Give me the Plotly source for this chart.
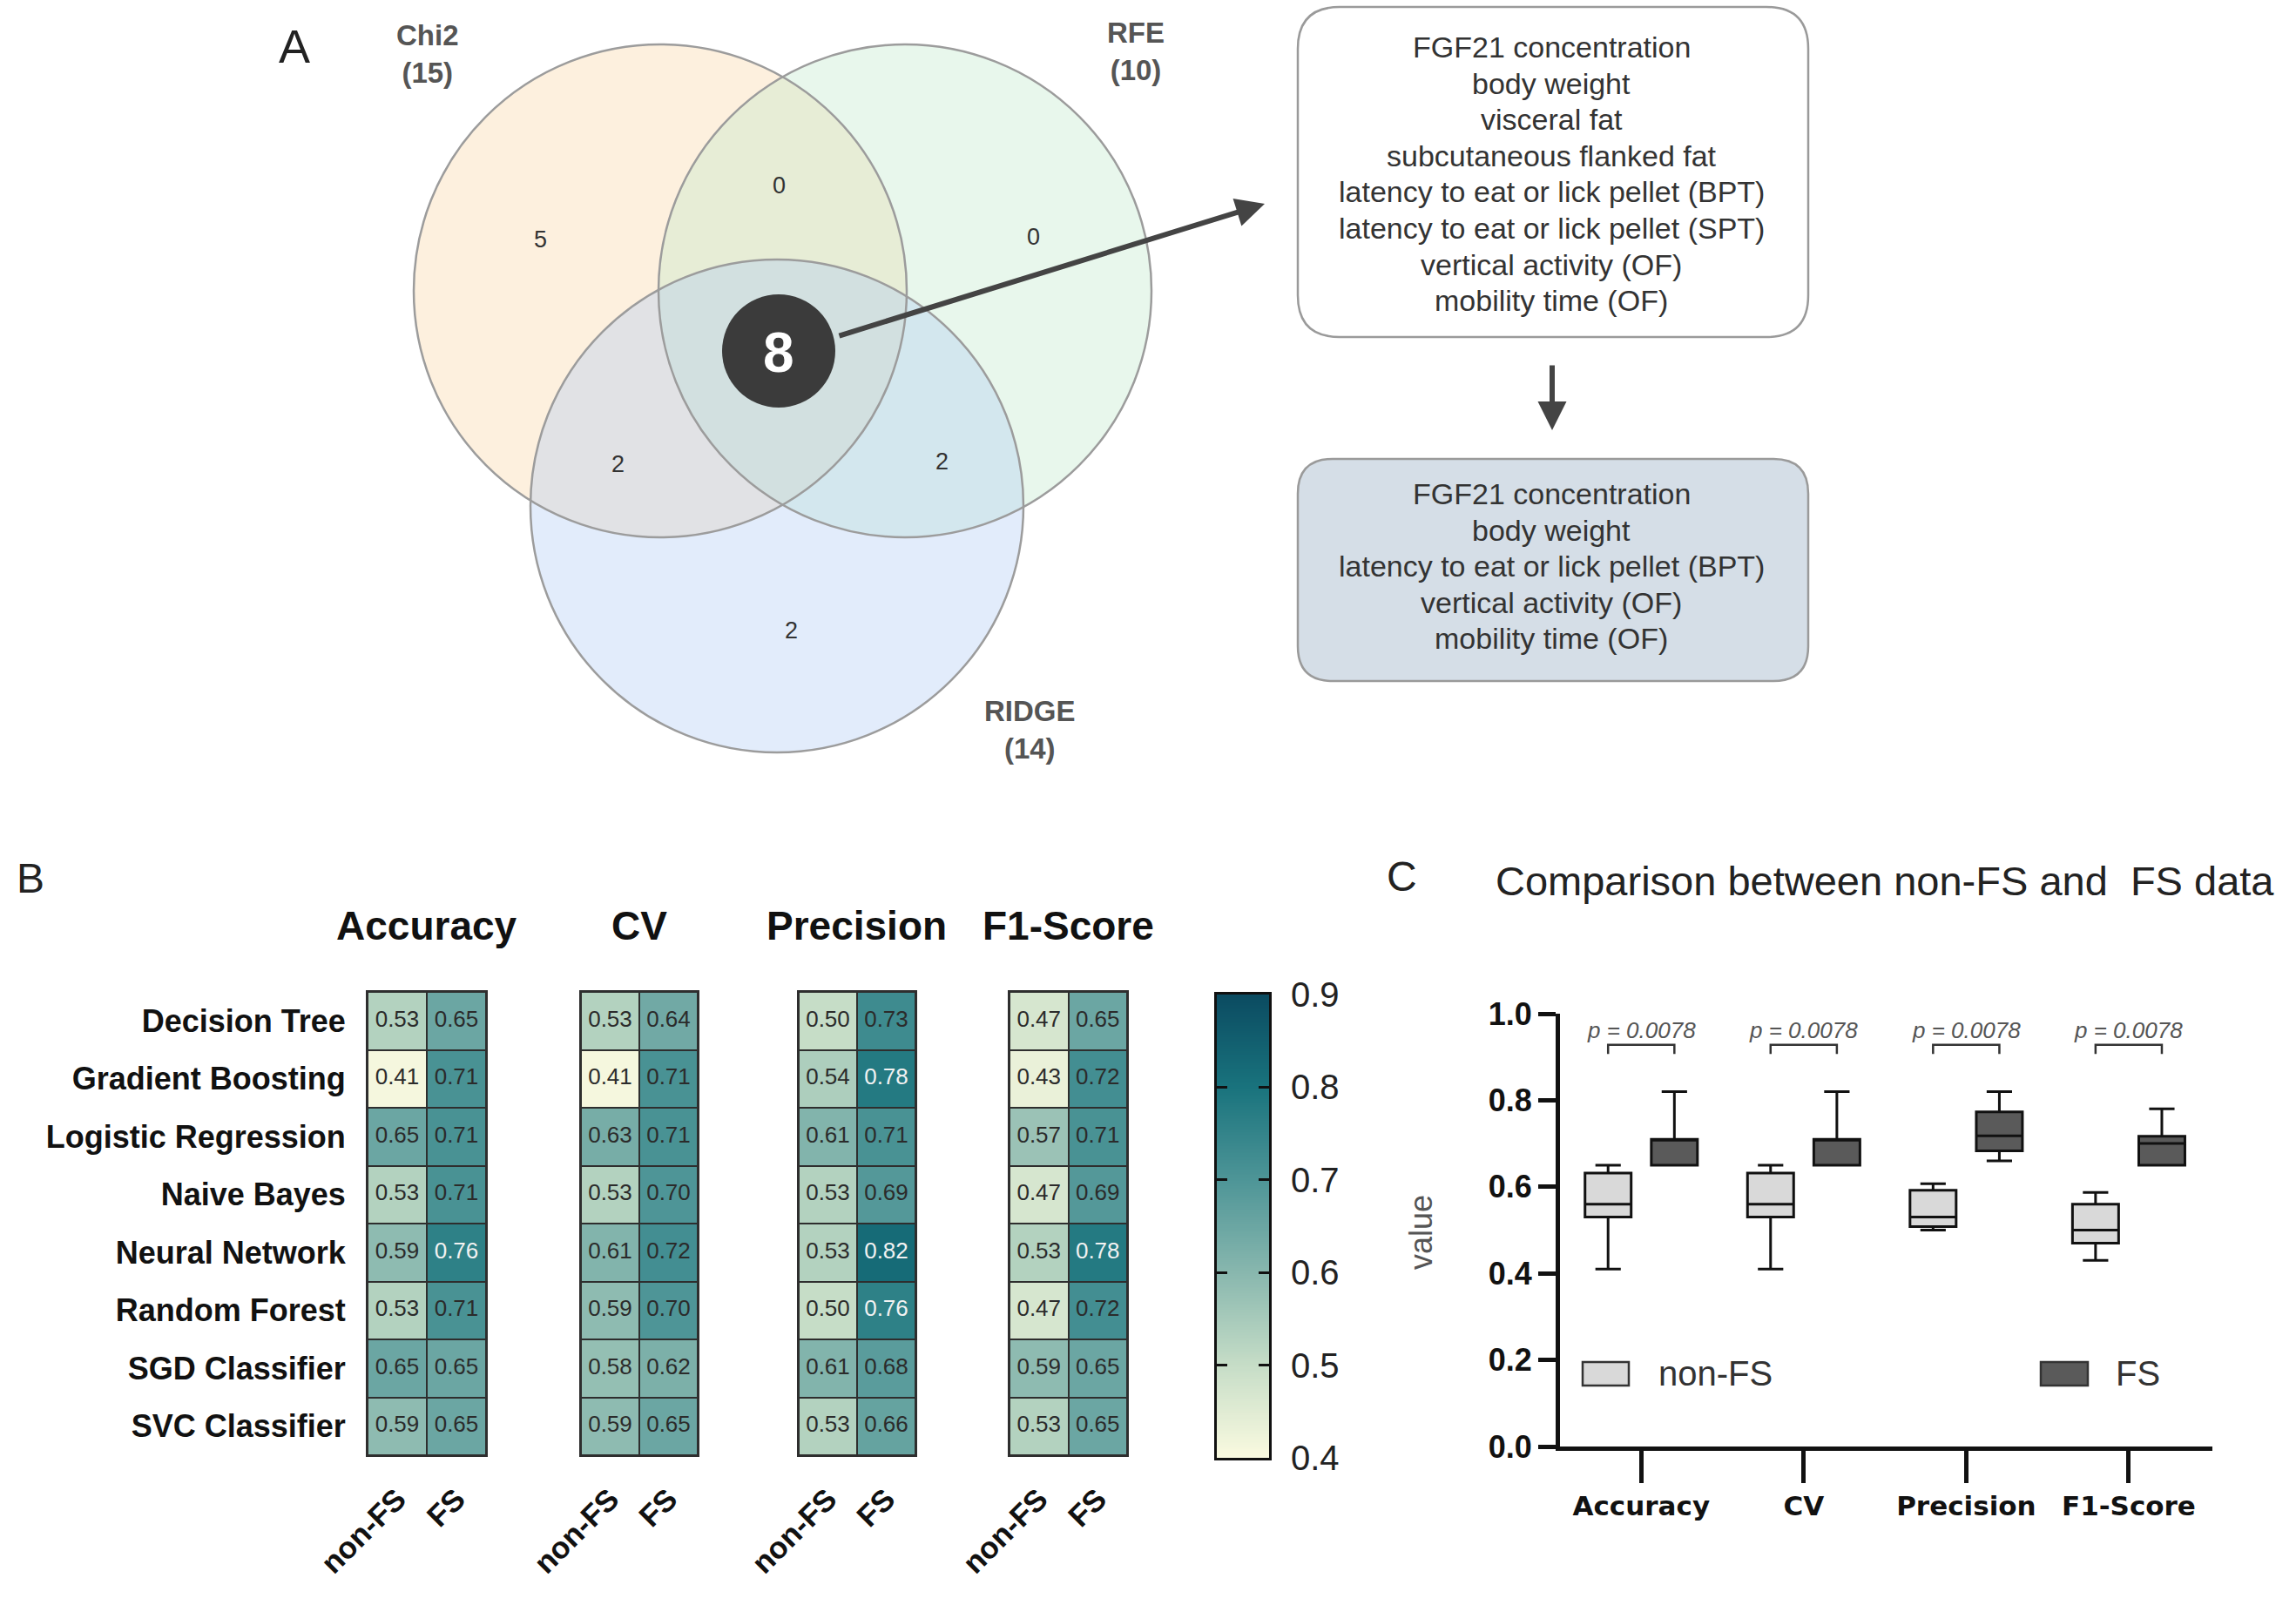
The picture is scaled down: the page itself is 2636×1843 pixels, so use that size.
import numpy as np
import plotly.graph_objects as go

W, H = 2636, 1843
FONT = "Liberation Sans, Arial, sans-serif"

# ---------------- DATA ----------------
models = ["Decision Tree", "Gradient Boosting", "Logistic Regression", "Naive Bayes",
          "Neural Network", "Random Forest", "SGD Classifier", "SVC Classifier"]
conditions = ["non-FS", "FS"]
metrics = ["Accuracy", "CV", "Precision", "F1-Score"]

accuracy_nonfs = [0.53, 0.41, 0.65, 0.53, 0.59, 0.53, 0.65, 0.59]
accuracy_fs = [0.65, 0.71, 0.71, 0.71, 0.76, 0.71, 0.65, 0.65]
cv_nonfs = [0.53, 0.41, 0.63, 0.53, 0.61, 0.59, 0.58, 0.59]
cv_fs = [0.64, 0.71, 0.71, 0.70, 0.72, 0.70, 0.62, 0.65]
precision_nonfs = [0.50, 0.54, 0.61, 0.53, 0.53, 0.50, 0.61, 0.53]
precision_fs = [0.73, 0.78, 0.71, 0.69, 0.82, 0.76, 0.68, 0.66]
f1_nonfs = [0.47, 0.43, 0.57, 0.47, 0.53, 0.47, 0.59, 0.53]
f1_fs = [0.65, 0.72, 0.71, 0.69, 0.78, 0.72, 0.65, 0.65]

# Panel C box summaries (Accuracy, CV, Precision, F1-Score)
nonfs_low = [0.41, 0.41, 0.50, 0.43]
nonfs_q1 = [0.53, 0.53, 0.508, 0.47]
nonfs_med = [0.56, 0.56, 0.53, 0.50]
nonfs_q3 = [0.632, 0.632, 0.592, 0.56]
nonfs_high = [0.65, 0.65, 0.607, 0.587]
fs_low = [0.65, 0.65, 0.66, 0.65]
fs_q1 = [0.65, 0.65, 0.683, 0.65]
fs_med = [0.71, 0.71, 0.718, 0.70]
fs_q3 = [0.71, 0.71, 0.773, 0.717]
fs_high = [0.82, 0.82, 0.82, 0.78]
p_values = ["0.0078", "0.0078", "0.0078", "0.0078"]

# Venn (panel A)
venn_sets = ["Chi2", "RFE", "RIDGE"]
venn_sizes = [15, 10, 14]
venn_regions = ["Chi2", "Chi2&RFE", "RFE", "Chi2&RIDGE", "RFE&RIDGE", "RIDGE"]
venn_counts = [5, 0, 0, 2, 2, 2]
venn_core = 8

features_common = ["FGF21 concentration", "body weight", "visceral fat",
                   "subcutaneous flanked fat", "latency to eat or lick pellet (BPT)",
                   "latency to eat or lick pellet (SPT)", "vertical activity (OF)",
                   "mobility time (OF)"]
features_final = ["FGF21 concentration", "body weight",
                  "latency to eat or lick pellet (BPT)", "vertical activity (OF)",
                  "mobility time (OF)"]

heat_data = [(accuracy_nonfs, accuracy_fs), (cv_nonfs, cv_fs),
             (precision_nonfs, precision_fs), (f1_nonfs, f1_fs)]
cbar_ticks = [0.4, 0.5, 0.6, 0.7, 0.8, 0.9]


# ---------------- helpers ----------------
def X(px):
    return px / W


def Y(py):
    return 1 - py / H


annotations = []
shapes = []


def ann(x, y, text, size, color="#222", weight="normal", style="normal",
        xanchor="center", yanchor="middle", family=FONT, angle=0):
    annotations.append(dict(x=X(x), y=Y(y), xref="paper", yref="paper", text=text,
                            showarrow=False, xanchor=xanchor, yanchor=yanchor,
                            textangle=angle,
                            font=dict(size=size, color=color, family=family,
                                      weight=weight, style=style)))


def rounded(x0, y0, x1, y1, r):
    p = (f"M {X(x0 + r)},{Y(y0)} L {X(x1 - r)},{Y(y0)} Q {X(x1)},{Y(y0)} {X(x1)},{Y(y0 + r)} "
         f"L {X(x1)},{Y(y1 - r)} Q {X(x1)},{Y(y1)} {X(x1 - r)},{Y(y1)} "
         f"L {X(x0 + r)},{Y(y1)} Q {X(x0)},{Y(y1)} {X(x0)},{Y(y1 - r)} "
         f"L {X(x0)},{Y(y0 + r)} Q {X(x0)},{Y(y0)} {X(x0 + r)},{Y(y0)} Z")
    return p


fig = go.Figure()
layout = {}

# ---------------- Panel B: heatmaps ----------------
colorscale = [[0.0, "#fafae0"], [0.2, "#c6ddc7"], [0.4, "#88b7ae"],
              [0.6, "#4e9597"], [0.8, "#19737d"], [1.0, "#0b4b61"]]
hm_x = [(422, 558), (667, 801), (917, 1051), (1159, 1294)]
hm_y = (1139, 1671)

for k, (nonfs, fs) in enumerate(heat_data):
    xa = "x" if k == 0 else f"x{k + 1}"
    ya = "y" if k == 0 else f"y{k + 1}"
    z = [[a, b] for a, b in zip(nonfs, fs)]
    fig.add_trace(go.Heatmap(z=z, x=conditions, y=models, coloraxis="coloraxis",
                             xgap=2, ygap=2, xaxis=xa, yaxis=ya, hoverinfo="skip"))
    tx, ty, tt, tc = [], [], [], []
    for j, cond in enumerate(conditions):
        vals = nonfs if j == 0 else fs
        for i, m in enumerate(models):
            tx.append(cond)
            ty.append(m)
            tt.append(f"{vals[i]:.2f}")
            tc.append("#f2f2f2" if vals[i] >= 0.75 else "#2b2b2b")
    fig.add_trace(go.Scatter(x=tx, y=ty, text=tt, mode="text", xaxis=xa, yaxis=ya,
                             textfont=dict(size=26, color=tc, family=FONT),
                             hoverinfo="skip", showlegend=False))
    xk = "xaxis" if k == 0 else f"xaxis{k + 1}"
    yk = "yaxis" if k == 0 else f"yaxis{k + 1}"
    layout[xk] = dict(domain=[X(hm_x[k][0]), X(hm_x[k][1])], anchor=ya,
                      automargin=False,
                      type="category", categoryorder="array", categoryarray=conditions,
                      showgrid=False, zeroline=False, showline=True, mirror=True,
                      linecolor="#2e2e2e", linewidth=2, tickangle=-45,
                      ticks="outside", ticklen=14, tickcolor="rgba(0,0,0,0)",
                      tickfont=dict(size=35, color="#111", family=FONT, weight="bold"))
    layout[yk] = dict(domain=[Y(hm_y[1]), Y(hm_y[0])], anchor=xa,
                      automargin=False,
                      type="category", categoryorder="array",
                      categoryarray=models[::-1], autorange=True,
                      showgrid=False, zeroline=False, showline=True, mirror=True,
                      linecolor="#2e2e2e", linewidth=2,
                      showticklabels=(k == 0),
                      ticks="outside", ticklen=16, tickcolor="rgba(0,0,0,0)",
                      tickfont=dict(size=36, color="#111", family=FONT, weight="bold"))
    shapes.append(dict(type="rect", xref=f"{xa} domain", yref=f"{ya} domain",
                       x0=0, x1=1, y0=0, y1=1, fillcolor="#2e2e2e",
                       line=dict(width=0), layer="below"))
    ann((hm_x[k][0] + hm_x[k][1]) / 2, 1063, metrics[k], 46, color="#111", weight="bold")

layout["coloraxis"] = dict(colorscale=colorscale, cmin=cbar_ticks[0],
                           cmax=cbar_ticks[-1], showscale=False)

# colour bar drawn as a narrow heatmap strip on its own axes (ticks on both edges)
cb_top, cb_bot, cb_left, cb_right = 1142, 1674, 1397, 1457
grad = np.linspace(cbar_ticks[0], cbar_ticks[-1], 300)
fig.add_trace(go.Heatmap(z=[[v] for v in grad], x=[0], y=grad, coloraxis="coloraxis",
                         xaxis="x6", yaxis="y6", hoverinfo="skip"))
layout["xaxis6"] = dict(domain=[X(cb_left), X(cb_right)], anchor="y6", range=[-0.5, 0.5],
                        automargin=False, showticklabels=False, ticks="",
                        showgrid=False, zeroline=False, showline=True, mirror=True,
                        linecolor="#111", linewidth=3)
layout["yaxis6"] = dict(domain=[Y(cb_bot), Y(cb_top)], anchor="x6",
                        range=[cbar_ticks[0], cbar_ticks[-1]], side="right",
                        automargin=False, tickvals=cbar_ticks, tickformat=".1f",
                        ticks="inside", ticklen=12, tickwidth=3, tickcolor="#111",
                        showgrid=False, zeroline=False, showline=True, mirror="ticks",
                        linecolor="#111", linewidth=3, ticklabelstandoff=14,
                        tickfont=dict(size=40, color="#222", family=FONT))

# ---------------- Panel C: box plot ----------------
fig.add_trace(go.Box(x=metrics, q1=nonfs_q1, median=nonfs_med, q3=nonfs_q3,
                     lowerfence=nonfs_low, upperfence=nonfs_high, name="non-FS",
                     fillcolor="#d9d9d9", line=dict(color="#111", width=3),
                     whiskerwidth=0.55, xaxis="x5", yaxis="y5", showlegend=False,
                     boxpoints=False, hoverinfo="skip"))
fig.add_trace(go.Box(x=metrics, q1=fs_q1, median=fs_med, q3=fs_q3,
                     lowerfence=fs_low, upperfence=fs_high, name="FS",
                     fillcolor="#5a5a5a", line=dict(color="#111", width=3),
                     whiskerwidth=0.55, xaxis="x5", yaxis="y5", showlegend=False,
                     boxpoints=False, hoverinfo="skip"))

layout["xaxis5"] = dict(domain=[X(1791), X(2540)], anchor="y5", type="category",
                        automargin=False,
                        categoryorder="array", categoryarray=metrics,
                        range=[-0.5, 3.515], showgrid=False, zeroline=False,
                        showline=True, linecolor="#111", linewidth=5,
                        ticks="outside", ticklen=37, tickwidth=5, tickcolor="#111",
                        tickfont=dict(size=31, color="#111",
                                      family="DejaVu Sans, sans-serif", weight="bold"))
layout["yaxis5"] = dict(domain=[Y(1661), Y(1164)], anchor="x5", range=[0, 1.0],
                        automargin=False,
                        showgrid=False, zeroline=False, showline=True,
                        linecolor="#111", linewidth=5, ticks="outside", ticklen=20,
                        tickwidth=5, tickcolor="#111",
                        tickvals=[0, 0.2, 0.4, 0.6, 0.8, 1.0], tickformat=".1f",
                        tickfont=dict(size=36, color="#111", family=FONT, weight="bold"))

off = 0.204
for i, pv in enumerate(p_values):
    annotations.append(dict(x=i, y=0.962, xref="x5", yref="y5",
                            text=f"p = {pv}", showarrow=False,
                            font=dict(size=26, color="#555", family=FONT, style="italic")))
    shapes.append(dict(type="path", xref="x5", yref="y5",
                       path=f"M {i - off},0.907 L {i - off},0.928 L {i + off},0.928 L {i + off},0.907",
                       line=dict(color="#333", width=2.5)))

# legend (manual, inside plot)
for (x0, x1), col, label, tx in [((1817, 1870), "#d9d9d9", "non-FS", 1902),
                                 ((2343, 2397), "#5a5a5a", "FS", 2427)]:
    shapes.append(dict(type="rect", xref="paper", yref="paper", x0=X(x0), x1=X(x1),
                       y0=Y(1591), y1=Y(1564), fillcolor=col,
                       line=dict(color="#333", width=2.5)))
    ann(tx, 1577, label, 40, color="#333", xanchor="left")

ann(2164, 1011, "Comparison between non-FS and  FS data", 47, color="#222")
ann(1631, 1415, "value", 36, color="#555", angle=-90)

# ---------------- Panel labels ----------------
ann(338, 53, "A", 54, color="#222")
ann(35, 1009, "B", 48, color="#222")
ann(1609, 1006, "C", 48, color="#222")

# ---------------- Panel A: Venn ----------------
R = 283
venn_centers = [(758, 334), (1039, 334), (892, 581)]
venn_fill = ["rgba(249,212,161,0.35)", "rgba(189,232,201,0.35)", "rgba(172,201,244,0.35)"]
for (cx, cy), fc in zip(venn_centers, venn_fill):
    shapes.append(dict(type="circle", xref="paper", yref="paper",
                       x0=X(cx - R), x1=X(cx + R), y0=Y(cy + R), y1=Y(cy - R),
                       fillcolor=fc, line=dict(width=0), layer="above"))
for (cx, cy) in venn_centers:
    shapes.append(dict(type="circle", xref="paper", yref="paper",
                       x0=X(cx - R), x1=X(cx + R), y0=Y(cy + R), y1=Y(cy - R),
                       fillcolor="rgba(0,0,0,0)", line=dict(color="#9c9c9c", width=2.5)))

region_pos = [(620, 275), (894, 213), (1186, 272), (709, 533), (1081, 530), (908, 724)]
for (px_, py_), cnt in zip(region_pos, venn_counts):
    ann(px_, py_, str(cnt), 27, color="#333")

# core circle
shapes.append(dict(type="circle", xref="paper", yref="paper",
                   x0=X(894 - 65), x1=X(894 + 65), y0=Y(403 + 65), y1=Y(403 - 65),
                   fillcolor="#3b3b3b", line=dict(width=0)))
ann(894, 405, str(venn_core), 64, color="#ffffff", weight="bold")

set_label_pos = [(491, 62), (1304, 59), (1182, 838)]
for (px_, py_), name, n in zip(set_label_pos, venn_sets, venn_sizes):
    ann(px_, py_, f"{name}<br>({n})", 33, color="#555", weight="bold")

# arrow to feature box
annotations.append(dict(x=X(1452), y=Y(234), xref="paper", yref="paper", text="",
                        showarrow=True, ax=962 - 1452, ay=386 - 234,
                        axref="pixel", ayref="pixel", arrowhead=2, arrowsize=1.1,
                        arrowwidth=6, arrowcolor="#444", standoff=0))
# down arrow
annotations.append(dict(x=X(1782), y=Y(494), xref="paper", yref="paper", text="",
                        showarrow=True, ax=0, ay=-76, axref="pixel", ayref="pixel",
                        arrowhead=2, arrowsize=1.1, arrowwidth=6, arrowcolor="#444",
                        standoff=0))

# feature boxes
shapes.append(dict(type="path", xref="paper", yref="paper",
                   path=rounded(1490, 8, 2076, 387, 48), fillcolor="#ffffff",
                   line=dict(color="#9a9a9a", width=2.5)))
shapes.append(dict(type="path", xref="paper", yref="paper",
                   path=rounded(1490, 527, 2076, 782, 40), fillcolor="#d5dee7",
                   line=dict(color="#9a9a9a", width=2.5)))
for i, t in enumerate(features_common):
    ann(1781, 54 + i * 41.6, t, 34, color="#333")
for i, t in enumerate(features_final):
    ann(1781, 567 + i * 41.6, t, 34, color="#333")

layout.update(dict(width=W, height=H, autosize=False,
                   margin=dict(l=0, r=0, t=0, b=0, pad=0, autoexpand=False),
                   paper_bgcolor="#ffffff", plot_bgcolor="rgba(0,0,0,0)",
                   boxmode="group", boxgap=0.184, boxgroupgap=0.304,
                   showlegend=False, annotations=annotations, shapes=shapes,
                   font=dict(family=FONT)))
fig.update_layout(**layout)
fig.write_html("out.html", config={"displayModeBar": False},
               post_script="document.body.style.margin='0px';")
